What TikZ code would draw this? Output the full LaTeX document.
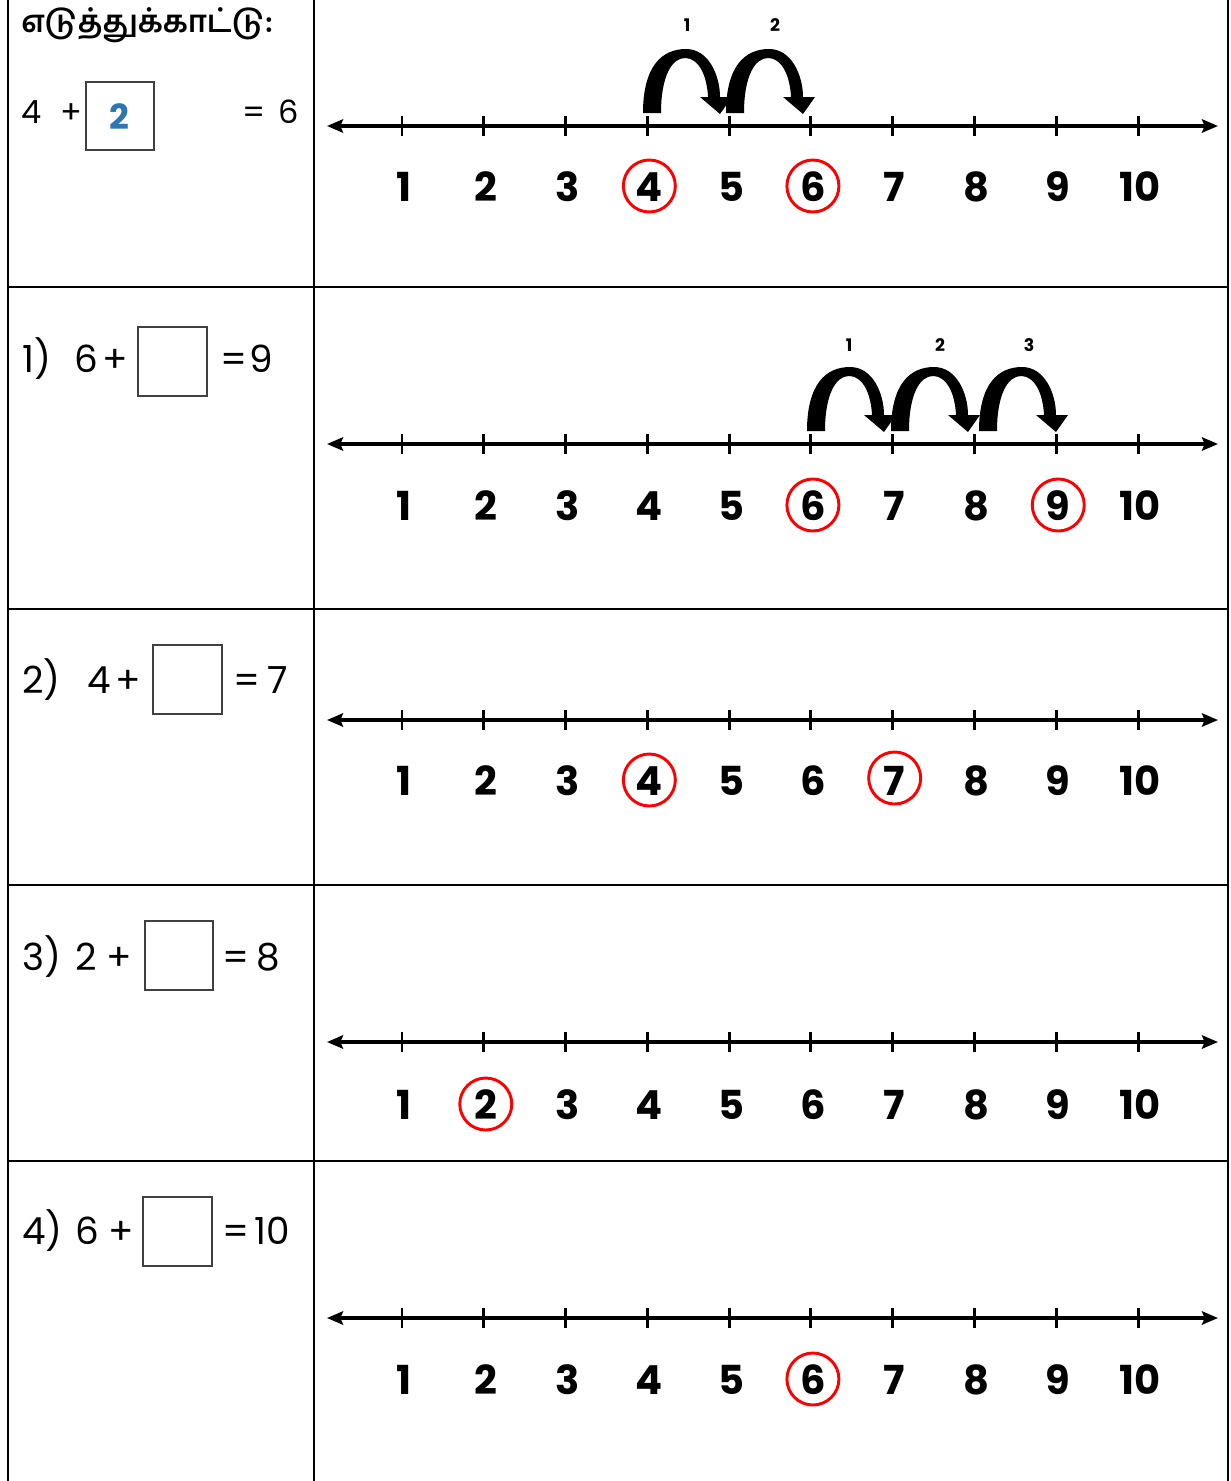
\documentclass[tikz,border=0pt]{standalone}
\usepackage{fontspec}
\setmainfont{Poppins}
\newfontfamily\tamilfont[Script=Tamil]{Hind Madurai}
\usetikzlibrary{arrows.meta}
\newcommand\hoparrow[2]{%
  \fill[black] ({#1-5},{#2-13}) .. controls ({#1-5},{#2-60}) and ({#1+14},{#2-77}) .. ({#1+38},{#2-77})
    .. controls ({#1+61},{#2-77}) and ({#1+72},{#2-50}) .. ({#1+72},{#2-29})
    -- ({#1+84},{#2-29}) -- ({#1+72},{#2-12}) -- ({#1+52},{#2-29}) -- ({#1+60},{#2-29})
    .. controls ({#1+59},{#2-50}) and ({#1+51},{#2-68}) .. ({#1+37},{#2-68})
    .. controls ({#1+24},{#2-68}) and ({#1+13},{#2-50}) .. ({#1+13},{#2-13}) -- cycle;}
\begin{document}
\begin{tikzpicture}[x=0.75pt,y=-0.75pt,
  frameline/.style={line width=1.6pt, black},
  axisline/.style={line width=2.4pt, {Stealth[length=12pt,width=10pt,inset=2pt]}-{Stealth[length=12pt,width=10pt,inset=2pt]}},
  tickline/.style={line width=2.2pt},
  num/.style={font=\fontsize{30}{30}\selectfont\bfseries, inner sep=0pt, anchor=base},
  ring/.style={draw=red, line width=2.2pt, circle, minimum size=39pt, inner sep=0pt},
  hoplabel/.style={font=\fontsize{13}{13}\selectfont\bfseries, inner sep=0pt},
  eqtext/.style={font=\fontsize{28}{28}\selectfont, inner sep=0pt, anchor=base west},
  eqsmall/.style={font=\fontsize{24}{24}\selectfont, inner sep=0pt, anchor=base west},
  answerbox/.style={draw=black!75, line width=0.9pt},
]
\useasboundingbox (0,0) rectangle (1231,1481);
\fill[white] (0,0) rectangle (1231,1481);
% table frame
\coordinate (vl0) at (8,0);   \coordinate (vl1) at (8,1481);
\coordinate (vm0) at (314,0); \coordinate (vm1) at (314,1481);
\coordinate (vr0) at (1228,0);\coordinate (vr1) at (1228,1481);
\draw[frameline] (vl0) -- (vl1);
\draw[frameline] (vm0) -- (vm1);
\draw[frameline] (vr0) -- (vr1);
\foreach \k/\hy in {1/287,2/609,3/885,4/1161}{
  \coordinate (hl\k) at (8,\hy); \coordinate (hr\k) at (1228,\hy);
  \draw[frameline] (hl\k) -- (hr\k);
}
% number lines
\foreach \r/\ay/\cy in {0/126/186,1/444/505,2/720/780,3/1042/1104,4/1318/1379}{
  \coordinate (L\r) at (327,\ay);
  \coordinate (R\r) at (1218,\ay);
  \draw[axisline] (L\r) -- (R\r);
  \foreach \i in {1,...,10}{
    \pgfmathsetmacro\xx{402+(\i-1)*81.78}
    \coordinate (tu\r-\i) at (\xx,{\ay-10});
    \coordinate (td\r-\i) at (\xx,{\ay+10});
    \draw[tickline] (tu\r-\i) -- (td\r-\i);
    \node[num] (n\r-\i) at ({\xx+2},{\cy+15}) {\i};
  }
}
% red rings
\foreach \r/\i/\cy in {0/4/186,0/6/186,1/6/505,1/9/505,2/4/780,2/7/778,3/2/1104,4/6/1379}{
  \pgfmathsetmacro\xx{402+(\i-1)*81.78}
  \node[ring] (c\r-\i) at ({\xx+2},\cy) {};
}
% jumps
\hoparrow{648}{126}
\hoparrow{731}{126}
\node[hoplabel] (j0-1) at (687,25) {1};
\node[hoplabel] (j0-2) at (775,25) {2};
\hoparrow{812}{444}
\hoparrow{896}{444}
\hoparrow{984}{444}
\node[hoplabel] (j1-1) at (849,345) {1};
\node[hoplabel] (j1-2) at (940,345) {2};
\node[hoplabel] (j1-3) at (1029,345) {3};
% header and example
\node[anchor=base west, inner sep=0pt, font=\tamilfont\fontsize{23}{23}\selectfont\bfseries] (hdr) at (21,32) {எடுத்துக்காட்டு:};
\node[eqsmall] (e0a) at (21,123) {4};
\node[eqsmall] (e0p) at (60,123) {+};
\draw[answerbox] (86,82) rectangle (154,150);
\node[inner sep=0pt, font=\fontsize{26}{26}\selectfont\bfseries, text={rgb,255:red,46;green,117;blue,182}] (ans) at (119,117) {2};
\node[eqsmall] (e0e) at (242,123) {=};
\node[eqsmall] (e0r) at (278,123) {6};
% exercises
\foreach \r/\lab/\op/\opx/\plx/\bxa/\bxb/\bya/\eqx/\res/\resx/\bl in {
  1/1)/6/74/102/138/207/327/220/9/249/372,
  2/2)/4/87/115/153/222/645/233/7/267/693,
  3/3)/2/75/106/145/213/921/222/8/256/970,
  4/4)/6/75/108/143/212/1197/222/10/254/1244}{
  \node[eqtext] (lab\r) at (22,\bl) {\lab};
  \node[eqtext] (op\r) at (\opx,\bl) {\op};
  \node[eqtext] (pl\r) at (\plx,\bl) {+};
  \draw[answerbox] (\bxa,\bya) rectangle (\bxb,{\bya+69});
  \node[eqtext] (eq\r) at (\eqx,\bl) {=};
  \node[eqtext] (res\r) at (\resx,\bl) {\res};
}
\end{tikzpicture}
\end{document}
